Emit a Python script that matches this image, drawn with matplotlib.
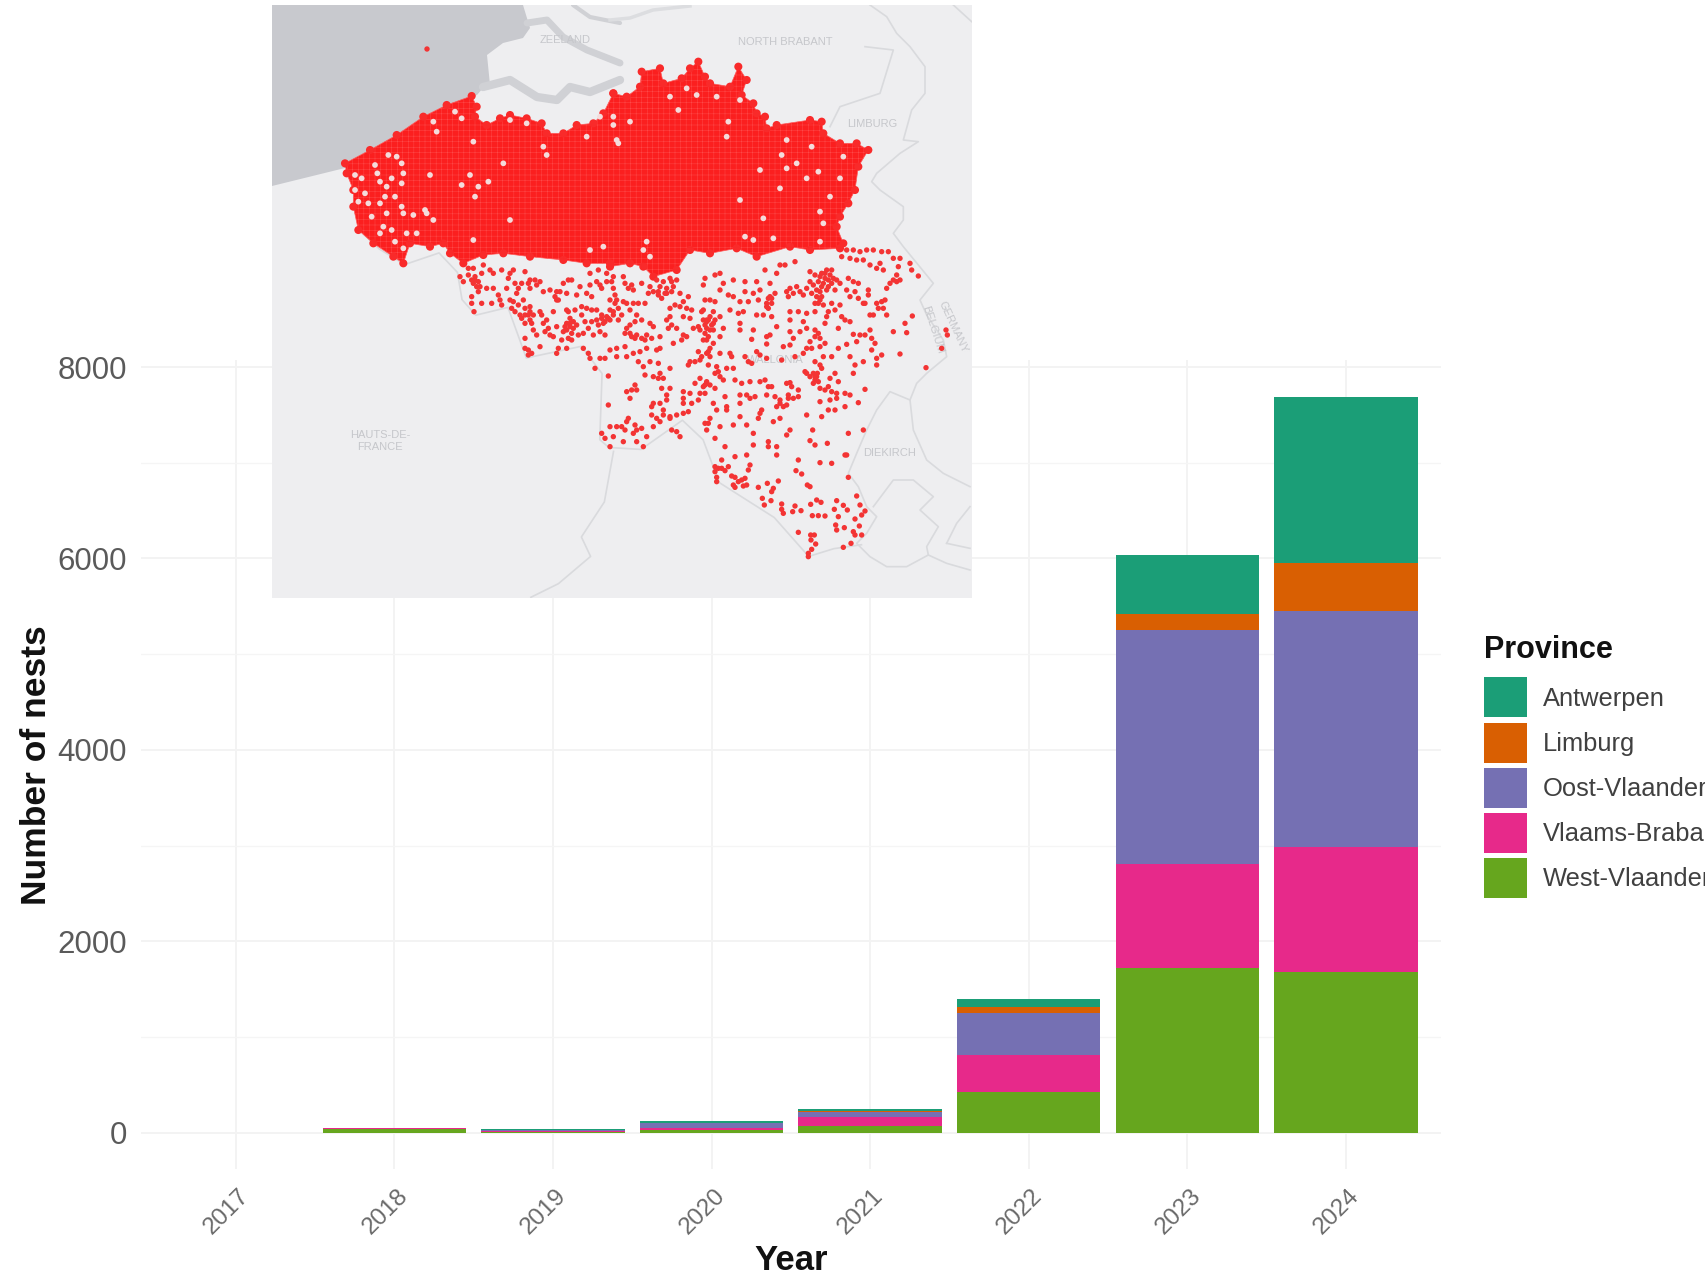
import matplotlib
matplotlib.use("Agg")
import matplotlib.pyplot as plt
from matplotlib.patches import Patch, Polygon
from matplotlib.transforms import ScaledTranslation

W, H = 1706, 1277
plt.rcParams["font.family"] = ["Liberation Sans", "DejaVu Sans"]
plt.rcParams["hatch.linewidth"] = 0.25

# nests per year and province
years = [2017, 2018, 2019, 2020, 2021, 2022, 2023, 2024]
west_vlaanderen = [0, 40, 12, 30, 73, 427, 1722, 1678]
vlaams_brabant = [0, 4, 8, 20, 87, 389, 1087, 1306]
oost_vlaanderen = [0, 4, 10, 50, 56, 438, 2445, 2470]
limburg = [0, 1, 1, 5, 10, 64, 167, 502]
antwerpen = [0, 3, 4, 13, 21, 74, 611, 1730]

provinces = ["Antwerpen", "Limburg", "Oost-Vlaanderen", "Vlaams-Brabant", "West-Vlaanderen"]
colors = {"Antwerpen": "#1B9E77", "Limburg": "#D95F02", "Oost-Vlaanderen": "#7570B3",
          "Vlaams-Brabant": "#E7298A", "West-Vlaanderen": "#66A61E"}
y_ticks = [0, 2000, 4000, 6000, 8000]
y_minor = [1000, 3000, 5000, 7000]

def crop(points, x0, y0, sx=3.0, sy=3.0):
    return [(x0 + p[0] / sx, y0 + p[1] / sy) for p in points]

sea_edge = [(272, 5), (272, 186), (345, 168), (392, 140), (440, 110), (477, 95), (483, 88), (490, 85),
            (487, 55), (503, 43), (523, 38), (530, 28), (523, 5)]
channels = [[(527, 23), (547, 20), (563, 37), (587, 50), (620, 63)],
            [(573, 5), (590, 17), (620, 23)],
            [(483, 87), (510, 80), (537, 97), (557, 100), (570, 87), (590, 92), (620, 80)]]
channel_faint = [(610, 20), (630, 18), (653, 10), (690, 6)]

# outline of the part of Flanders where the dots merge
west_outline = [(225, 490), (300, 450), (380, 405), (460, 350), (530, 315), (605, 288), (620, 320), (615, 350),
                (650, 375), (690, 355), (720, 345), (770, 355), (815, 370), (830, 400), (880, 400), (920, 375),
                (970, 370), (1000, 340), (1030, 280)]
east_outline = [(10, 280), (50, 290), (90, 260), (95, 215), (150, 205), (160, 250), (215, 235), (240, 205),
                (265, 185), (285, 230), (300, 250), (360, 260), (385, 200), (410, 240), (395, 285), (430, 310),
                (440, 340), (465, 350), (470, 385), (500, 375), (600, 360), (635, 365), (640, 400), (690, 430),
                (740, 430), (775, 450), (745, 500), (735, 570), (715, 610), (690, 650), (680, 680), (700, 730),
                (690, 745), (600, 750), (540, 740), (440, 770), (380, 745), (300, 760), (240, 750), (200, 810),
                (130, 830), (100, 800), (60, 790), (0, 800)]
west_south = [(1020, 790), (950, 790), (880, 780), (780, 770), (700, 760), (640, 765), (580, 790), (540, 760),
              (520, 730), (480, 740), (420, 730), (400, 790), (370, 770), (310, 730), (265, 690), (250, 620),
              (250, 570), (230, 520)]

gaps_west = [(255, 525), (275, 535), (315, 495), (322, 520), (330, 545), (355, 465), (380, 470), (395, 490),
             (400, 520), (395, 550), (365, 535), (350, 560), (345, 590), (375, 590), (395, 620), (400, 640),
             (430, 645), (465, 630), (490, 660), (350, 640), (330, 610), (285, 580), (265, 605), (295, 610),
             (305, 650), (255, 570), (340, 680), (365, 690), (330, 700), (375, 725), (400, 745), (410, 700),
             (440, 700), (490, 365), (500, 395), (555, 335), (575, 355), (610, 425), (600, 525), (655, 545),
             (625, 560), (575, 555), (480, 525), (615, 590), (830, 465), (700, 490), (470, 640), (820, 440),
             (990, 350), (1030, 350), (950, 410), (720, 360), (770, 370), (610, 720), (720, 660), (1040, 420),
             (1000, 740), (960, 750)]
gaps_east = [(60, 365), (25, 430), (10, 375), (180, 290), (260, 285), (390, 300), (320, 290), (230, 265),
             (355, 365), (530, 420), (515, 465), (530, 505), (605, 440), (590, 535), (625, 515), (560, 490),
             (660, 590), (690, 535), (460, 655), (630, 635), (700, 470), (450, 510), (510, 565), (390, 600),
             (430, 720), (490, 715), (630, 725), (640, 670), (110, 725), (100, 750), (405, 710), (205, 330),
             (350, 410), (120, 770)]

nests_w = [(30, 110), (40, 125), (55, 105), (65, 120), (75, 110), (70, 130), (85, 125), (90, 140), (85, 155), (95, 100),
           (110, 145), (65, 170), (65, 190), (95, 190), (125, 190), (72, 215), (150, 180), (155, 195), (145, 165),
           (130, 145), (170, 145), (205, 145), (200, 160), (180, 180), (190, 185), (205, 195), (220, 180), (185, 205),
           (195, 215), (210, 225), (225, 205), (240, 200), (215, 235), (225, 250), (240, 240), (250, 225), (245, 250),
           (270, 215), (275, 225), (250, 270), (260, 285), (225, 295), (235, 330), (225, 325), (245, 340), (270, 320),
           (235, 345), (320, 155), (315, 170), (330, 155), (350, 160), (300, 150), (280, 155), (270, 125), (260, 135),
           (240, 145), (240, 120), (225, 95), (190, 90), (180, 100), (155, 90), (130, 100), (120, 90), (100, 75),
           (70, 85), (55, 85), (175, 115), (195, 130), (215, 130), (235, 130), (255, 120), (320, 180), (325, 180),
           (310, 215), (280, 250), (290, 240), (295, 265), (285, 275), (300, 285), (310, 290), (320, 260), (335, 300),
           (355, 295), (365, 300), (385, 285), (350, 270), (345, 260), (360, 260), (380, 255), (370, 245), (360, 235),
           (355, 215), (375, 210), (350, 210), (325, 325), (320, 340), (350, 325), (400, 325), (415, 340), (420, 355),
           (450, 355), (465, 355), (435, 385), (475, 408), (475, 495), (395, 200), (410, 205), (425, 210), (440, 210),
           (395, 225), (405, 245), (425, 245), (440, 240), (455, 235), (470, 230), (460, 250), (445, 255), (450, 275),
           (465, 285), (430, 285), (400, 280), (415, 265), (480, 210), (490, 215), (505, 205), (490, 225), (480, 240),
           (505, 240), (515, 225), (540, 210), (560, 225), (575, 240), (555, 245), (540, 255), (530, 265), (525, 280),
           (545, 290), (560, 285), (575, 295), (590, 285), (605, 295), (610, 260), (600, 250), (630, 290), (380, 165),
           (390, 140), (410, 160), (425, 170), (420, 135), (440, 125), (450, 135), (455, 145), (470, 125), (485, 125),
           (490, 145), (495, 165), (500, 180), (480, 180), (495, 190), (520, 185), (530, 190), (550, 190), (565, 190),
           (585, 190), (525, 130), (535, 145), (550, 150), (545, 135), (355, 120), (365, 120), (340, 130), (420, 100),
           (445, 90), (470, 100), (490, 110), (520, 110), (595, 160), (610, 155), (625, 165), (635, 175), (600, 140),
           (575, 130), (650, 160), (665, 125), (690, 160), (715, 170), (700, 185), (675, 195), (660, 205), (690, 200),
           (710, 205), (725, 210), (660, 230), (650, 240), (665, 255), (680, 265), (655, 265), (700, 230), (720, 235),
           (755, 215), (770, 245), (745, 260), (730, 265), (750, 270), (765, 280), (775, 290), (700, 285), (710, 290),
           (695, 300), (670, 310), (630, 325), (620, 330), (590, 325), (570, 335), (550, 340), (525, 320), (500, 325),
           (480, 330), (500, 350), (530, 350), (565, 365), (580, 380), (600, 365), (625, 370), (585, 405), (610, 410),
           (630, 400), (625, 415), (640, 415), (660, 385), (720, 365), (715, 375), (735, 365), (750, 360), (770, 340),
           (745, 335), (775, 375), (555, 435), (545, 450), (560, 450), (530, 455), (540, 475), (635, 445), (660, 445),
           (650, 465), (650, 480), (700, 455), (720, 460), (700, 475), (700, 490), (725, 490), (750, 460), (745, 480),
           (610, 490), (605, 500), (630, 490), (640, 510), (605, 525), (620, 535), (630, 545), (610, 560), (640, 525),
           (660, 530), (680, 525), (700, 520), (715, 515), (665, 570), (680, 575), (690, 590), (660, 535), (535, 535),
           (530, 545), (515, 560), (525, 570), (555, 555), (560, 570), (575, 565), (550, 580), (520, 605), (560, 605),
           (590, 590), (480, 560), (500, 560), (455, 580), (465, 595), (490, 590), (480, 620), (580, 620), (765, 435),
           (770, 425), (750, 415), (735, 430), (775, 550), (770, 570),
           # the tighter clusters
           (225, 225), (235, 225), (240, 215), (360, 250), (370, 265), (350, 250), (365, 280), (340, 275), (455, 225),
           (465, 245), (475, 235), (555, 295), (585, 300), (540, 280), (75, 120), (80, 140), (620, 120), (640, 125),
           (660, 115), (680, 120), (630, 140), (650, 145), (670, 140), (625, 155), (645, 160), (665, 155)]
nests_e = [(440, 30), (460, 30), (480, 35), (500, 30), (520, 30), (545, 35), (565, 35), (580, 55), (600, 55), (630, 70),
           (595, 80), (635, 90), (655, 108), (590, 105), (580, 120), (590, 125), (600, 120), (570, 130), (560, 145),
           (540, 70), (510, 75), (530, 85), (550, 90), (490, 60), (470, 60), (450, 55), (425, 50), (330, 95), (345, 105),
           (360, 110), (375, 100), (395, 90), (410, 120), (420, 130), (385, 120), (370, 130), (355, 125), (365, 140),
           (385, 140), (405, 150), (340, 135), (350, 170), (360, 180), (345, 190), (370, 195), (335, 160), (330, 125),
           (290, 140), (270, 145), (260, 155), (280, 160), (300, 155), (310, 165), (265, 170), (320, 145), (445, 115),
           (460, 125), (475, 130), (440, 150), (465, 155), (475, 175), (490, 190), (450, 170), (505, 150), (505, 165),
           (530, 190), (545, 185), (555, 180), (535, 205), (550, 205), (560, 225), (510, 225), (520, 225), (495, 190),
           (420, 195), (395, 190), (405, 210), (385, 215), (425, 230), (435, 240), (450, 245), (415, 265), (380, 230),
           (375, 250), (345, 270), (355, 280), (345, 290), (360, 295), (330, 305), (320, 325), (335, 325), (360, 320),
           (375, 310), (310, 340), (345, 365), (360, 375), (365, 385), (340, 400), (350, 410), (355, 425), (340, 430),
           (360, 445), (375, 450), (395, 455), (410, 460), (410, 475), (435, 460), (450, 465), (475, 488), (495, 448),
           (415, 425), (405, 400), (390, 415), (370, 350), (395, 350), (415, 325), (440, 313), (460, 283), (480, 285),
           (495, 285), (470, 305), (510, 270), (515, 295), (525, 310), (515, 330), (450, 350), (465, 375), (490, 365),
           (530, 355), (545, 345), (530, 375), (460, 400), (580, 275), (615, 250), (620, 278), (637, 228), (600, 342),
           (678, 383), (738, 270), (742, 285), (725, 325), (240, 75), (255, 75), (285, 65), (230, 100), (195, 90),
           (135, 125), (170, 125), (210, 130), (180, 150), (135, 155), (160, 160), (100, 120), (70, 130), (45, 105),
           (60, 100), (15, 115), (10, 135), (60, 150), (85, 165), (100, 170), (120, 185), (145, 185), (175, 180),
           (210, 170), (200, 190), (215, 190), (205, 205), (225, 160), (15, 180), (30, 180), (45, 185), (10, 210),
           (40, 215), (60, 230), (90, 210), (115, 220), (130, 215), (170, 225), (190, 225), (215, 230), (270, 215),
           (295, 215), (320, 220), (345, 215), (270, 240), (310, 245), (230, 260), (120, 250), (120, 270), (70, 265),
           (60, 290), (10, 240), (25, 240), (35, 255), (15, 255), (30, 270), (45, 240), (40, 270), (155, 298), (200, 290),
           (210, 285), (160, 270), (270, 275), (280, 295), (300, 275), (320, 265), (250, 320), (270, 315), (200, 312),
           (170, 335), (180, 345), (200, 355), (245, 360), (285, 350), (135, 350), (145, 365), (155, 370), (90, 340),
           (95, 350), (80, 385), (60, 340), (30, 325), (25, 335), (10, 300), (20, 300), (40, 310), (30, 350), (5, 350),
           (50, 380), (55, 395), (60, 410), (45, 400), (70, 420), (20, 430), (10, 440), (30, 435), (15, 460), (45, 445),
           (100, 385), (105, 420), (125, 430), (150, 425), (180, 425), (195, 420), (205, 440), (215, 440), (260, 430),
           (270, 428), (275, 440), (320, 400), (330, 410), (315, 395), (385, 440), (225, 470), (240, 480), (200, 465),
           (165, 470), (140, 465), (150, 475), (120, 465), (75, 470), (265, 475), (280, 475), (295, 470), (295, 450),
           (265, 465), (360, 485), (390, 480), (385, 510), (405, 510), (435, 500), (40, 490), (50, 510), (80, 500),
           (80, 510), (120, 490), (120, 530), (30, 535), (15, 550), (60, 560), (100, 555), (140, 555), (160, 580),
           (45, 595), (75, 620), (140, 645), (185, 510), (180, 520), (175, 535), (220, 545), (240, 535), (240, 490),
           (230, 500), (260, 495), (250, 500), (320, 525), (365, 530), (338, 570), (270, 570), (260, 585), (445, 580),
           (490, 570), (330, 602), (345, 615), (382, 610), (205, 605), (205, 620), (160, 615), (440, 645), (230, 620),
           (230, 645), (105, 650),
           # the tighter clusters
           (365, 100), (380, 90), (390, 105), (400, 115), (375, 115), (395, 130), (380, 150), (360, 155), (350, 150),
           (355, 190), (365, 170), (20, 240), (30, 230), (40, 250), (20, 265), (205, 175), (215, 175), (200, 200),
           (345, 410), (345, 420), (352, 400)]
nests_s = [(125, 180), (105, 200), (115, 205), (125, 205), (145, 200), (105, 215), (135, 212), (210, 195), (205, 210),
           (110, 232), (110, 245), (155, 228), (165, 232), (160, 255), (165, 262), (175, 245), (185, 240), (195, 235),
           (190, 258), (200, 255), (235, 262), (262, 250), (295, 243), (280, 265), (275, 275), (247, 295), (273, 302),
           (253, 315), (305, 312), (305, 328), (310, 340), (338, 335), (345, 318), (363, 332), (392, 313), (410, 300),
           (423, 307), (397, 347), (415, 347), (435, 348), (470, 302), (490, 316), (502, 330), (463, 328), (475, 350),
           (467, 375), (470, 390), (493, 383), (530, 288), (540, 315), (555, 333), (545, 345), (525, 357), (538, 378),
           (520, 395), (525, 405), (545, 405), (513, 430), (490, 442), (355, 397), (392, 405), (403, 405), (393, 420),
           (407, 432), (395, 448), (385, 460), (385, 470), (505, 232), (348, 212), (365, 222), (382, 255), (390, 260),
           (420, 188), (455, 190), (355, 180), (495, 165)]
nest_offshore = [(427, 49)]

# borders, light grey on the basemap
border_south = crop([(215, 590), (260, 640), (315, 680), (390, 650), (430, 700), (440, 770), (470, 810), (540, 790),
                     (580, 920), (700, 890), (745, 960), (740, 1130), (760, 1150), (830, 1155), (920, 1080),
                     (965, 1130), (1000, 1240), (1120, 1330), (1180, 1410), (1195, 1430), (1250, 1410), (1310, 1400)],
                    260, 0, 2.178, 2.57)
border_east = (crop([(780, 15), (830, 50), (860, 100), (900, 140), (945, 200), (945, 280), (905, 330), (880, 420),
                     (925, 425), (870, 460), (800, 520), (785, 545), (810, 570), (880, 620), (880, 660), (850, 700),
                     (880, 740), (970, 850)], 610, 0)
               + crop([(660, 180), (680, 225), (730, 300), (740, 350), (680, 400), (650, 430), (630, 480), (570, 455),
                       (530, 510), (500, 570), (470, 640)], 700, 240)
               + crop([(505, 220), (535, 260), (560, 320), (590, 350), (560, 400), (530, 430), (570, 470), (620, 500),
                       (680, 500), (745, 465), (800, 490), (870, 510)], 680, 400))
border_lux = crop([(690, 0), (700, 90), (740, 180), (790, 220), (850, 250), (870, 260)], 680, 400)
border_lux2 = crop([(580, 320), (640, 240), (700, 240), (760, 290), (720, 330), (775, 380), (740, 440), (745, 465)], 680, 400)
border_lux3 = crop([(800, 430), (870, 445)], 680, 400)
border_lux4 = crop([(800, 430), (830, 370), (870, 320)], 680, 400)
border_de = crop([(1030, 15), (1085, 65)], 610, 0)
border_nl = crop([(765, 140), (850, 150), (810, 280), (690, 320), (660, 380)], 610, 0)
border_fr = crop([(770, 1160), (750, 1290), (700, 1380), (720, 1430), (650, 1500), (590, 1535)], 260, 0, 2.178, 2.57)

map_labels = [("ZEELAND", 565, 40, 0), ("NORTH BRABANT", 785, 42, 0), ("LIMBURG", 872, 124, 0),
              ("HAUTS-DE-\nFRANCE", 380, 441, 0), ("DIEKIRCH", 890, 453, 0), ("WALLONIA", 775, 360, 0),
              ("GERMANY", 953, 327, -65), ("BELGIUM", 933, 330, -72)]

fig = plt.figure(figsize=(W / 100, H / 100), dpi=100, facecolor="white")

# bars
ax = fig.add_axes([140.6 / W, 1 - 1169.4 / H, 1300.4 / W, 809 / H])
bottom = [0] * len(years)
stack = [("West-Vlaanderen", west_vlaanderen), ("Vlaams-Brabant", vlaams_brabant),
         ("Oost-Vlaanderen", oost_vlaanderen), ("Limburg", limburg), ("Antwerpen", antwerpen)]
for name, values in stack:
    ax.bar(years, values, width=0.905, bottom=bottom, color=colors[name], zorder=3)
    bottom = [b + v for b, v in zip(bottom, values)]

ax.set_xlim(2017 - 0.6, 2024 + 0.6)
ax.set_ylim(-384, 8070)
ax.set_xticks(years)
ax.set_yticks(y_ticks)
ax.set_yticks(y_minor, minor=True)
ax.grid(True, which="major", color="#f3f3f3", lw=1.4, zorder=0)
ax.grid(True, which="minor", axis="y", color="#f5f5f5", lw=1.0, zorder=0)
ax.set_axisbelow(True)
for s in ax.spines.values():
    s.set_visible(False)
ax.tick_params(which="both", length=0)
ax.tick_params(axis="y", labelsize=22.5, labelcolor="#5a5a5a", pad=10)
ax.tick_params(axis="x", labelsize=17.5, labelcolor="#6a6a6a", pad=11)
for lab in ax.get_xticklabels():
    lab.set_rotation(45)
    lab.set_ha("center")
    lab.set_transform(lab.get_transform() + ScaledTranslation(-0.09, 0, fig.dpi_scale_trans))

ax.set_xlabel("Year", fontsize=25, fontweight="bold", color="#111111", va="center")
ax.xaxis.set_label_coords(0.5, -(1261 - 1169.4) / 809)
ax.set_ylabel("Number of nests", fontsize=25.5, fontweight="bold", color="#111111", va="center")
ax.yaxis.set_label_coords((37 - 140.6) / 1300.4, (1169.4 - 765) / 809)

handles = [Patch(facecolor=colors[p], edgecolor="none") for p in provinces]
leg = fig.legend(handles, provinces, loc="upper left", bbox_to_anchor=(1484 / W, 1 - 635 / H),
                 frameon=False, fontsize=18.4, title="Province", alignment="left",
                 title_fontproperties={"size": 22, "weight": "bold"},
                 handlelength=1.68, handleheight=2.03, labelspacing=0.2, handletextpad=0.63,
                 borderpad=0, borderaxespad=0)
leg._legend_box.sep = 9
leg.get_title().set_color("#111111")
for t in leg.get_texts():
    t.set_color("#404040")

# map on top of the bar chart, its axes run in picture pixels
land = "#eeeef0"
mp = fig.add_axes([272 / W, 1 - 598 / H, 700 / W, 593 / H], zorder=5)
mp.set_xlim(272, 972)
mp.set_ylim(598, 5)
mp.set_facecolor(land)
mp.set_xticks([])
mp.set_yticks([])
for s in mp.spines.values():
    s.set_visible(False)

sea = "#c8c9ce"
mp.add_patch(Polygon(sea_edge, closed=True, facecolor=sea, edgecolor="none", zorder=1))
for line, lw in zip(channels, [5, 3, 6]):
    mp.plot(*zip(*line), color="#d0d1d5", lw=lw, solid_capstyle="round", solid_joinstyle="round", zorder=1)
mp.plot(*zip(*channel_faint), color="#dcdde0", lw=2.5, zorder=1)

for line in [border_south, border_east, border_lux, border_lux2, border_lux3, border_lux4, border_de, border_nl, border_fr]:
    mp.plot(*zip(*line), color="#d9dadd", lw=1.2, zorder=2)

dense = crop(west_outline, 270, 0) + crop(east_outline, 610, 0) + crop(west_south, 270, 0)
mp.add_patch(Polygon(dense, closed=True, facecolor="#fb1f1f", edgecolor="#ff5a5a", lw=0.5,
                     hatch="+++", zorder=3))
mp.scatter(*zip(*dense), s=34, marker="o", color="#f92a2a", edgecolors="none", zorder=3)

gaps = crop(gaps_west, 270, 0) + crop(gaps_east, 610, 0)
mp.scatter(*zip(*gaps), s=17, marker="o", color="#f4dcdc", edgecolors="none", zorder=4)

nests = crop(nests_w, 450, 240) + crop(nests_e, 700, 240) + crop(nests_s, 680, 400) + nest_offshore
mp.scatter(*zip(*nests), s=15, marker="o", color="#f33434", edgecolors="none", zorder=5)

for text, x, y, rot in map_labels:
    mp.text(x, y, text, fontsize=8, color="#c6c7cb", ha="center", va="center", rotation=rot,
            linespacing=1.3, zorder=2)

fig.savefig("out.png", dpi=100)
